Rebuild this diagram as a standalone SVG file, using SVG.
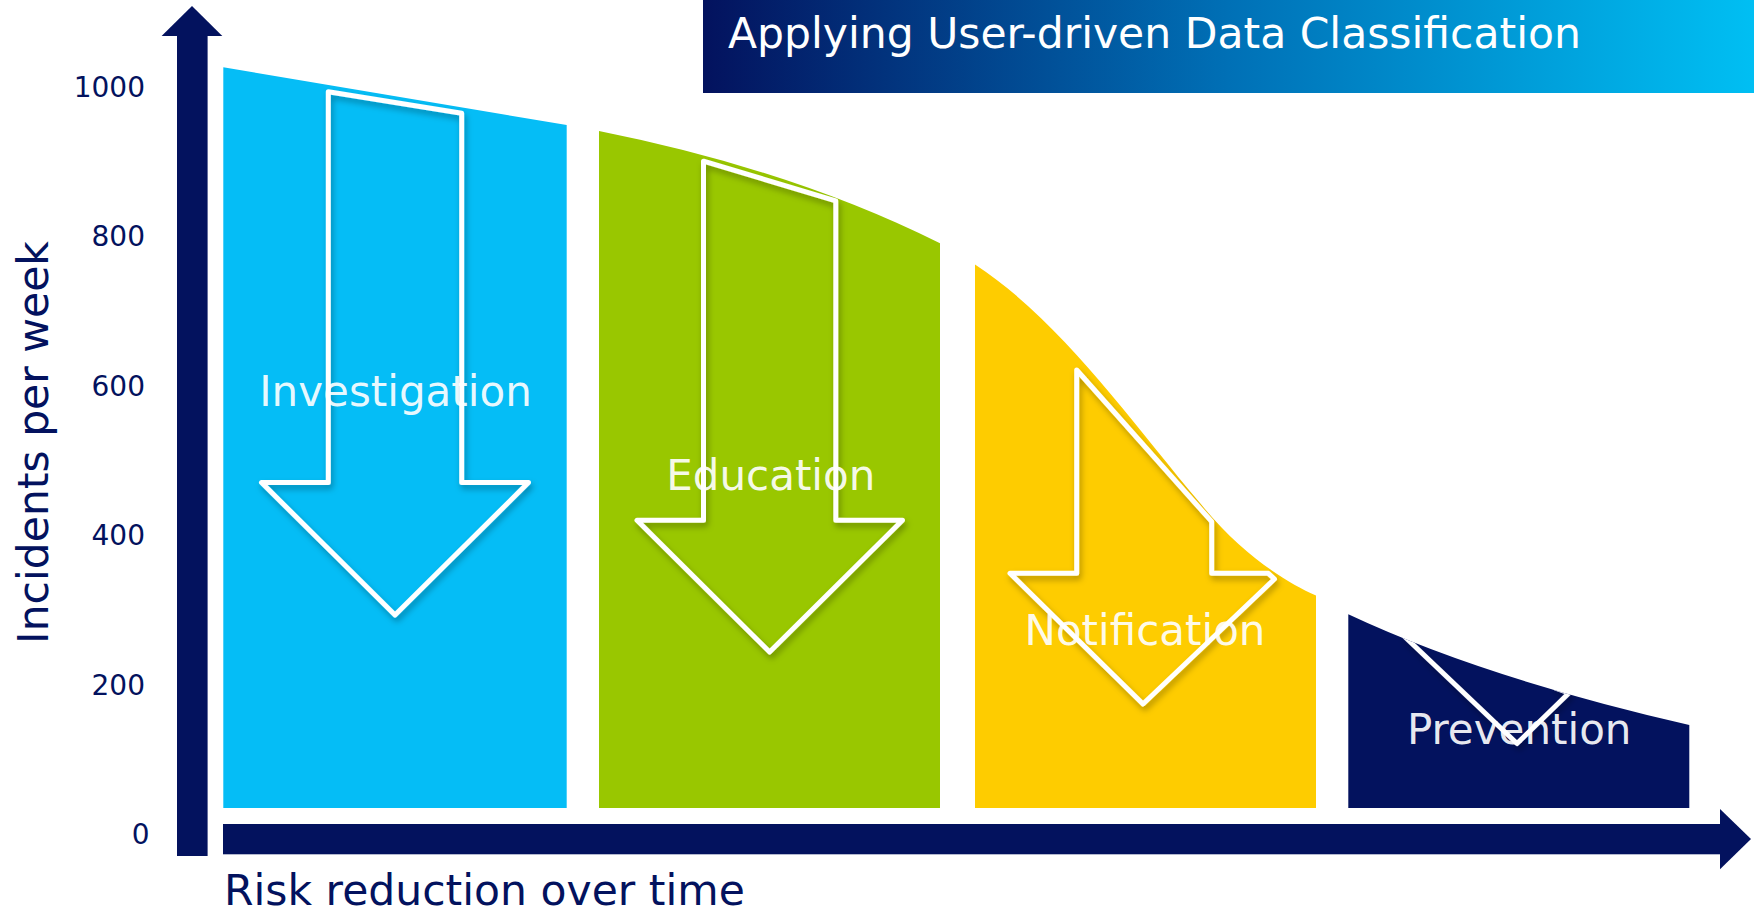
<svg xmlns="http://www.w3.org/2000/svg" width="1754" height="915" viewBox="0 0 1754 915">
  <style>
    .axis { fill: #03125E; }
    .tick { font-family: "DejaVu Sans", Verdana, sans-serif; font-size: 28px; fill: #03125E; text-anchor: end; }
    .axislabel { font-family: "DejaVu Sans", Verdana, sans-serif; font-size: 42.5px; fill: #03125E; }
    .label { font-family: "DejaVu Sans", Verdana, sans-serif; font-size: 42px; fill: #FFFFFF; fill-opacity: 0.92; text-anchor: middle; }
    .title { font-family: "DejaVu Sans", Verdana, sans-serif; font-size: 42.5px; fill: #FFFFFF; }
    .arrow { fill: none; stroke: #FFFFFF; stroke-width: 5; stroke-linejoin: round; stroke-linecap: round; }
  </style>
  <defs>
    <linearGradient id="titleGrad" x1="0" y1="0" x2="1" y2="0">
      <stop offset="0" stop-color="#03125E"/>
      <stop offset="0.5" stop-color="#0070B6"/>
      <stop offset="1" stop-color="#00BFF3"/>
    </linearGradient>
    <filter id="shadow" x="-10%" y="-10%" width="130%" height="130%">
      <feDropShadow dx="2" dy="4" stdDeviation="3" flood-color="#000000" flood-opacity="0.3"/>
    </filter>
    <clipPath id="clipBlue"><path d="M223.3,67.3 L566.7,125 L566.7,808 L223.3,808 Z"/></clipPath>
    <clipPath id="clipGreen"><path d="M599,131 Q793,169.8 940,243.3 L940,808 L599,808 Z"/></clipPath>
    <clipPath id="clipYellow"><path d="M975,264.5 C1060,320 1130,420 1200,503 C1240,553 1285,582 1316,595.5 L1316,808 L975,808 Z"/></clipPath>
    <clipPath id="clipNavy"><path d="M1348.3,614.3 Q1483,677.6 1689.3,725 L1689.3,808 L1348.3,808 Z"/></clipPath>
  </defs>

  <!-- title banner -->
  <g id="title">
    <rect x="703" y="0" width="1051" height="93" fill="url(#titleGrad)"/>
    <text class="title" x="728" y="47.7">Applying User-driven Data Classification</text>
  </g>

  <!-- regions -->
  <g id="investigation">
    <path d="M223.3,67.3 L566.7,125 L566.7,808 L223.3,808 Z" fill="#05BDF6"/>
    <g clip-path="url(#clipBlue)">
      <path class="arrow" filter="url(#shadow)" d="M328.3,91.7 L461.7,113.3 L461.7,482.5 L528.5,482.5 L395,615 L261.5,482.5 L328.3,482.5 Z"/>
    </g>
    <text class="label" x="395.5" y="406">Investigation</text>
  </g>

  <g id="education">
    <path d="M599,131 Q793,169.8 940,243.3 L940,808 L599,808 Z" fill="#99C700"/>
    <g clip-path="url(#clipGreen)">
      <path class="arrow" filter="url(#shadow)" d="M703.5,161.2 L835.8,200.8 L835.8,520.2 L902.5,520.2 L769.6,652 L637,520.2 L703.5,520.2 Z"/>
    </g>
    <text class="label" x="770.8" y="490.4">Education</text>
  </g>

  <g id="notification">
    <path d="M975,264.5 C1060,320 1130,420 1200,503 C1240,553 1285,582 1316,595.5 L1316,808 L975,808 Z" fill="#FECC00"/>
    <g clip-path="url(#clipYellow)">
      <path class="arrow" filter="url(#shadow)" d="M1076.7,370 L1211.7,521.7 L1211.7,573.3 L1268.3,573.3 L1274.5,579 L1143,704 L1010,573.3 L1076.7,573.3 Z"/>
    </g>
    <text class="label" x="1145" y="644.5">Notification</text>
  </g>

  <g id="prevention">
    <path d="M1348.3,614.3 Q1483,677.6 1689.3,725 L1689.3,808 L1348.3,808 Z" fill="#03125E"/>
    <g clip-path="url(#clipNavy)">
      <path class="arrow" filter="url(#shadow)" d="M1404,636 L1517,743.5 L1569,693 L1555,688"/>
    </g>
    <text class="label" x="1519.2" y="744.3">Prevention</text>
  </g>

  <!-- axes -->
  <g id="axes">
    <rect class="axis" x="177" y="34" width="30.6" height="822"/>
    <polygon class="axis" points="161.6,36 192,6 222.3,36"/>
    <rect class="axis" x="223" y="824" width="1499" height="30.3"/>
    <polygon class="axis" points="1720,809 1751,839 1720,869.3"/>
  </g>

  <!-- axis ticks and labels -->
  <g id="ticks">
    <text class="tick" x="145" y="96.7">1000</text>
    <text class="tick" x="145" y="246">800</text>
    <text class="tick" x="145" y="395.5">600</text>
    <text class="tick" x="145" y="545">400</text>
    <text class="tick" x="145" y="694.5">200</text>
    <text class="tick" x="149.5" y="844">0</text>
  </g>
  <g id="axis-titles">
    <text class="axislabel" text-anchor="middle" font-size="43" transform="translate(48,442.5) rotate(-90)">Incidents per week</text>
    <text class="axislabel" x="224" y="905">Risk reduction over time</text>
  </g>
</svg>
